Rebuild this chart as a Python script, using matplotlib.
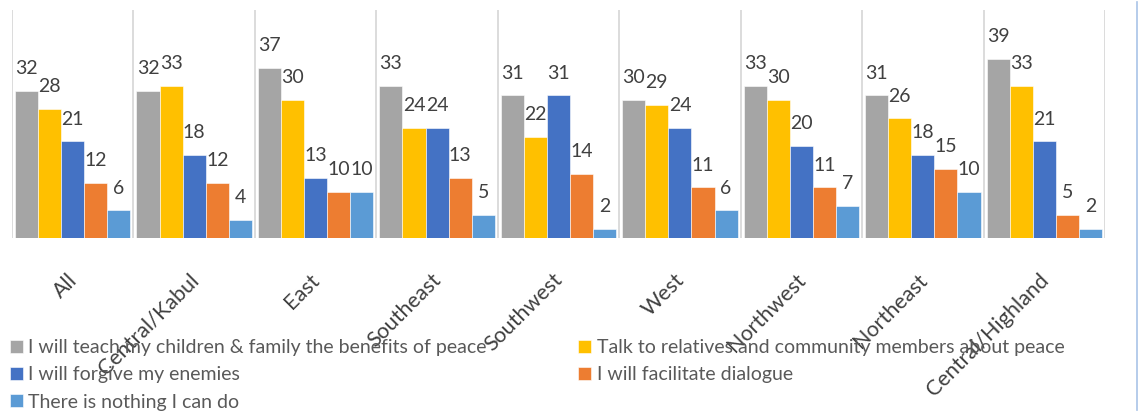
import numpy as np
import matplotlib
matplotlib.use('Agg')
import matplotlib.pyplot as plt
import matplotlib.transforms as mtransforms
from matplotlib.lines import Line2D

plt.rcParams['font.family'] = ['Lato', 'DejaVu Sans']

# ---- data ----
regions = ['All', 'Central/Kabul', 'East', 'Southeast', 'Southwest',
           'West', 'Northwest', 'Northeast', 'Central/Highland']

teach = [32, 32, 37, 33, 31, 30, 33, 31, 39]
talk = [28, 33, 30, 24, 22, 29, 30, 26, 33]
forgive = [21, 18, 13, 24, 31, 24, 20, 18, 21]
dialogue = [12, 12, 10, 13, 14, 11, 11, 15, 5]
nothing = [6, 4, 10, 5, 2, 6, 7, 10, 2]

series_names = ['I will teach my children & family the benefits of peace',
                'Talk to relatives and community members about peace',
                'I will forgive my enemies',
                'I will facilitate dialogue',
                'There is nothing I can do']
series_vals = [teach, talk, forgive, dialogue, nothing]
colors = ['#A5A5A5', '#FFC000', '#4472C4', '#ED7D31', '#5B9BD5']

# ---- figure ----
fig = plt.figure(figsize=(11.41, 4.16), dpi=100)
W, H = 1141, 416
ax = fig.add_axes([12 / W, 1 - 238 / H, (1105 - 12) / W, (238 - 9.5) / H])

x = np.arange(len(regions))
bw = 0.19
for i, (name, vals, c) in enumerate(zip(series_names, series_vals, colors)):
  offs = (i - 2) * bw
  bars = ax.bar(x + offs, vals, bw, color=c, label=name,
                edgecolor='white', linewidth=0.4)
  ax.bar_label(bars, padding=10, fontsize=14, color='#404040')

ax.set_xlim(-0.5, len(regions) - 0.5)
ax.set_ylim(0, 49.7)
ax.set_yticks([])

# category separators
ax.set_xticks(np.arange(len(regions) + 1) - 0.5, minor=True)
ax.grid(which='minor', axis='x', color='#D9D9D9', linewidth=1.3)
ax.tick_params(which='both', length=0)
ax.set_axisbelow(True)

ax.set_xticks(x)
ax.set_xticklabels(regions, rotation=45, ha='right', va='center',
                   rotation_mode='anchor', fontsize=15.5, color='#404040')
ax.tick_params(axis='x', pad=28)
shift = mtransforms.ScaledTranslation(1 / 100, 0, fig.dpi_scale_trans)
for lab in ax.get_xticklabels():
  lab.set_transform(lab.get_transform() + shift)

for s in ax.spines.values():
  s.set_visible(False)

# legend, row-major like the original
h, l = ax.get_legend_handles_labels()
order = [0, 2, 4, 1, 3]
fig.legend([h[k] for k in order], [l[k] for k in order],
           loc='upper left', bbox_to_anchor=(10 / W, 1 - 339 / H),
           ncol=2, frameon=False, fontsize=14, labelcolor='#595959',
           handlelength=0.65, handleheight=0.65, handletextpad=0.3,
           columnspacing=4.7, labelspacing=0.53, borderaxespad=0,
           borderpad=0)

# right edge of the chart frame
fig.add_artist(Line2D([1137 / W, 1137 / W], [1 - 2 / H, 1 - 410 / H],
                      color='#A9C4E8', linewidth=1.2))

fig.savefig('out.png', dpi=100)
